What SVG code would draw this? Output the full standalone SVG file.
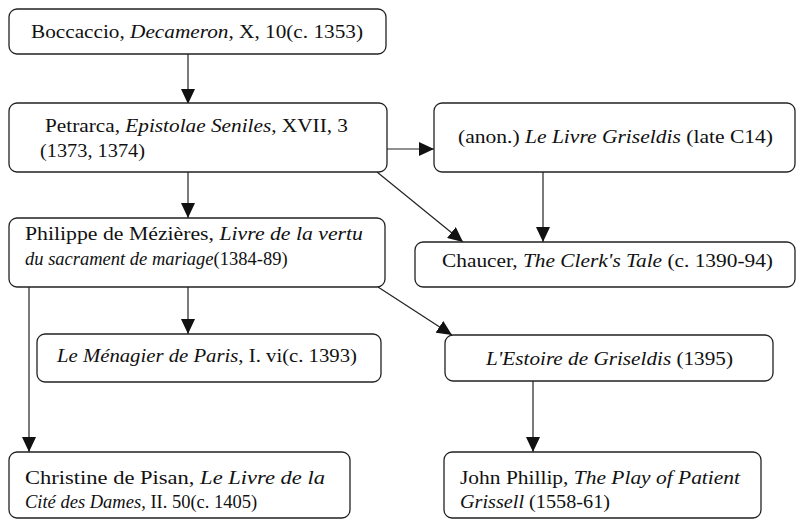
<svg xmlns="http://www.w3.org/2000/svg" width="796" height="520" viewBox="0 0 796 520">
<defs>
<marker id="ah" viewBox="0 0 15 14" refX="15" refY="7" markerWidth="15" markerHeight="14" markerUnits="userSpaceOnUse" orient="auto">
<path d="M0,0 L15,7 L0,14 Z" fill="#111"/>
</marker>
<style>
.box{fill:#fff;stroke:#222;stroke-width:1.3}
.t{font-family:'Liberation Serif','Times New Roman',serif;font-size:19.5px;fill:#111}
.s{font-size:18.5px}
.i{font-style:italic}
.c{fill:none;stroke:#222;stroke-width:1.2;marker-end:url(#ah)}
</style>
</defs>
<rect width="796" height="520" fill="#fff"/>
<g id="connectors">
<line class="c" x1="188" y1="54" x2="188" y2="104"/>
<line class="c" x1="387" y1="149" x2="434" y2="149"/>
<line class="c" x1="188" y1="172" x2="188" y2="218"/>
<line class="c" x1="377" y1="172" x2="463" y2="242"/>
<line class="c" x1="543" y1="172" x2="543" y2="242"/>
<line class="c" x1="188" y1="287" x2="188" y2="334"/>
<line class="c" x1="378" y1="287" x2="452" y2="335"/>
<line class="c" x1="29" y1="287" x2="29" y2="452"/>
<line class="c" x1="533" y1="381" x2="533" y2="452"/>
</g>
<g id="boccaccio">
<rect class="box" x="9" y="9" width="377" height="45" rx="8"/>
<text class="t" x="31" y="38" textLength="332" lengthAdjust="spacingAndGlyphs">Boccaccio, <tspan class="i">Decameron</tspan>, X, 10(c. 1353)</text>
</g>
<g id="petrarca">
<rect class="box" x="9" y="103" width="378" height="69" rx="8"/>
<text class="t" x="45" y="132" textLength="303" lengthAdjust="spacingAndGlyphs">Petrarca, <tspan class="i">Epistolae Seniles</tspan>, XVII, 3</text>
<text class="t" x="40" y="157" textLength="105" lengthAdjust="spacingAndGlyphs">(1373, 1374)</text>
</g>
<g id="livre-griseldis">
<rect class="box" x="434" y="103" width="361" height="69" rx="8"/>
<text class="t" x="458" y="143" textLength="315" lengthAdjust="spacingAndGlyphs">(anon.) <tspan class="i">Le Livre Griseldis</tspan> (late C14)</text>
</g>
<g id="chaucer">
<rect class="box" x="415" y="242" width="380" height="45" rx="8"/>
<text class="t" x="442" y="267" textLength="331" lengthAdjust="spacingAndGlyphs">Chaucer, <tspan class="i">The Clerk's Tale</tspan> (c. 1390-94)</text>
</g>
<g id="mezieres">
<rect class="box" x="9" y="218" width="376" height="69" rx="8"/>
<text class="t" x="25" y="240" textLength="338" lengthAdjust="spacingAndGlyphs">Philippe de Mézières, <tspan class="i">Livre de la vertu</tspan></text>
<text class="t s" x="25" y="265"><tspan class="i">du sacrament de mariage</tspan>(1384-89)</text>
</g>
<g id="menagier">
<rect class="box" x="37" y="334" width="344" height="48" rx="8"/>
<text class="t" x="57" y="362" textLength="300" lengthAdjust="spacingAndGlyphs"><tspan class="i">Le Ménagier de Paris</tspan>, I. vi(c. 1393)</text>
</g>
<g id="estoire">
<rect class="box" x="445" y="335" width="328" height="46" rx="8"/>
<text class="t" x="486" y="365" textLength="247" lengthAdjust="spacingAndGlyphs"><tspan class="i">L'Estoire de Griseldis</tspan> (1395)</text>
</g>
<g id="christine">
<rect class="box" x="9" y="452" width="341" height="66" rx="8"/>
<text class="t" x="25" y="484" textLength="300" lengthAdjust="spacingAndGlyphs">Christine de Pisan, <tspan class="i">Le Livre de la</tspan></text>
<text class="t s" x="25" y="508"><tspan class="i">Cité des Dames</tspan>, II. 50(c. 1405)</text>
</g>
<g id="phillip">
<rect class="box" x="444" y="452" width="317" height="66" rx="8"/>
<text class="t" x="460" y="484" textLength="280" lengthAdjust="spacingAndGlyphs">John Phillip, <tspan class="i">The Play of Patient</tspan></text>
<text class="t" x="460" y="508" textLength="150" lengthAdjust="spacingAndGlyphs"><tspan class="i">Grissell</tspan> (1558-61)</text>
</g>
</svg>
